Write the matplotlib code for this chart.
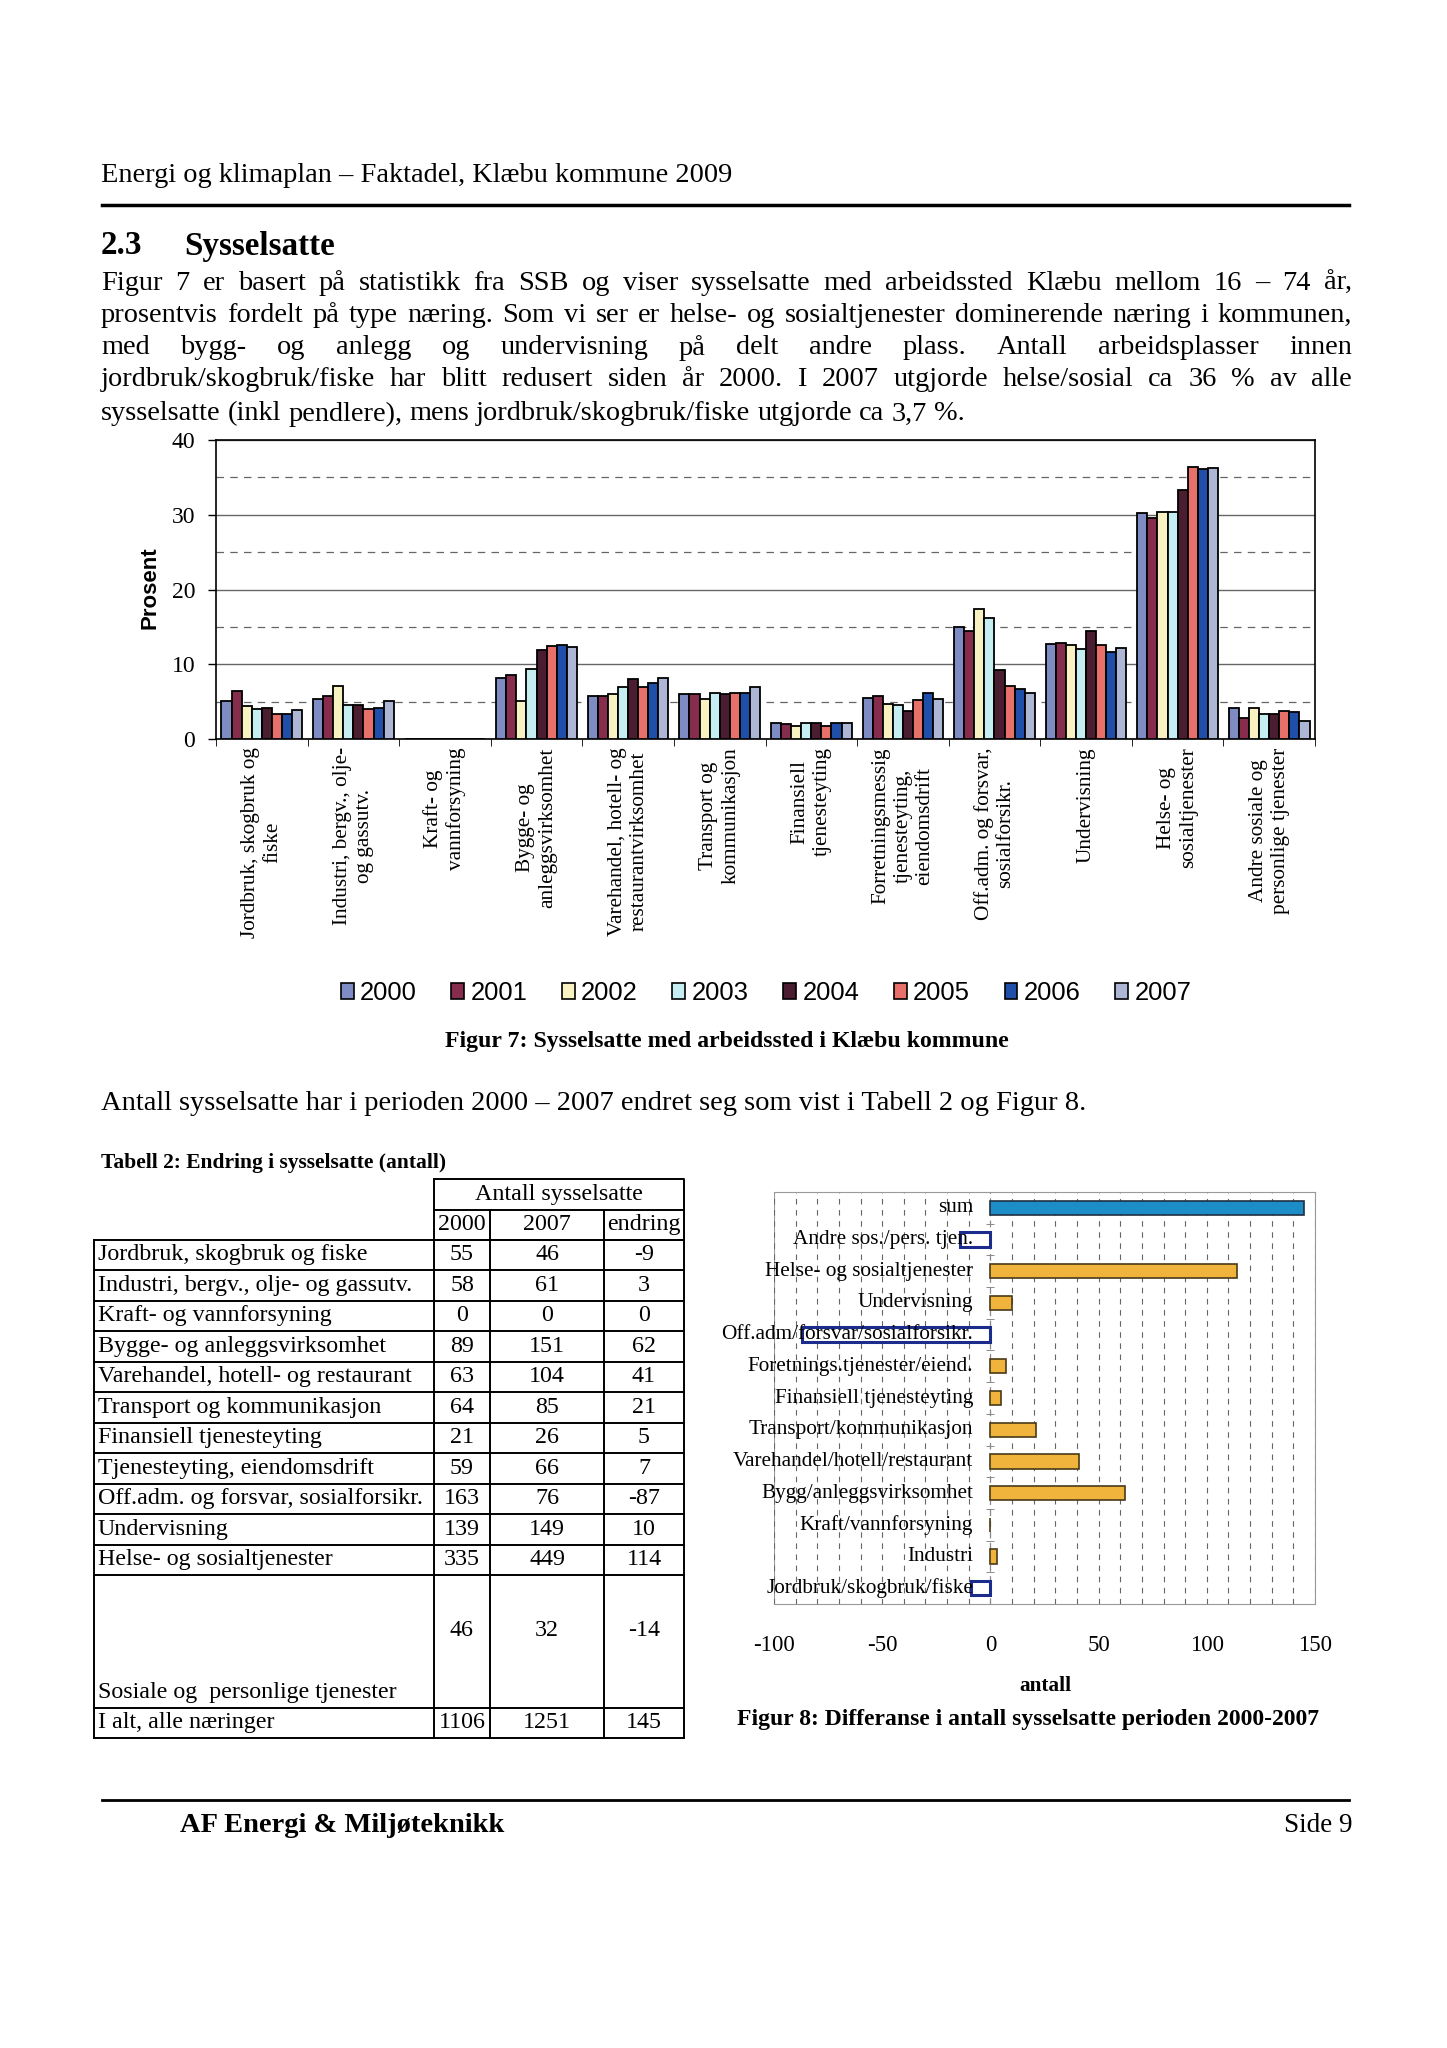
import numpy as np
import matplotlib
matplotlib.use('Agg')
import matplotlib.pyplot as plt
from matplotlib.patches import Patch

plt.rcParams['axes.unicode_minus'] = False

W, H = 1447, 2048
SERIF = 'Liberation Serif'
SANS = 'Liberation Sans'

# --- figur 7: prosent sysselsatte per naering og aar ---
years = ['2000', '2001', '2002', '2003', '2004', '2005', '2006', '2007']
sectors = ['Jordbruk, skogbruk og\nfiske', 'Industri, bergv., olje-\nog gassutv.',
           'Kraft- og\nvannforsyning', 'Bygge- og\nanleggsvirksomhet',
           'Varehandel, hotell- og\nrestaurantvirksomhet', 'Transport og\nkommunikasjon',
           'Finansiell\ntjenesteyting', 'Forretningsmessig\ntjenesteyting,\neiendomsdrift',
           'Off.adm. og forsvar,\nsosialforsikr.', 'Undervisning',
           'Helse- og\nsosialtjenester', 'Andre sosiale og\npersonlige tjenester']
share_2000 = [5.1, 5.3, 0, 8.1, 5.8, 6.0, 2.2, 5.5, 15.0, 12.7, 30.2, 4.2]
share_2001 = [6.4, 5.7, 0, 8.6, 5.8, 6.0, 2.0, 5.7, 14.5, 12.9, 29.5, 2.8]
share_2002 = [4.4, 7.1, 0, 5.1, 6.0, 5.3, 1.8, 4.7, 17.4, 12.6, 30.4, 4.1]
share_2003 = [4.0, 4.5, 0, 9.4, 7.0, 6.2, 2.2, 4.5, 16.2, 12.0, 30.4, 3.4]
share_2004 = [4.1, 4.5, 0, 11.9, 8.0, 6.0, 2.1, 3.8, 9.2, 14.5, 33.3, 3.3]
share_2005 = [3.4, 4.0, 0, 12.4, 7.0, 6.2, 1.8, 5.2, 7.1, 12.6, 36.4, 3.8]
share_2006 = [3.4, 4.1, 0, 12.6, 7.5, 6.2, 2.2, 6.2, 6.7, 11.7, 36.1, 3.6]
share_2007 = [3.9, 5.1, 0, 12.3, 8.2, 7.0, 2.2, 5.3, 6.1, 12.2, 36.2, 2.4]
shares = [share_2000, share_2001, share_2002, share_2003,
          share_2004, share_2005, share_2006, share_2007]
year_colors = ['#7f8cc4', '#862c4c', '#f8f2c2', '#c5eef2',
               '#4a1d31', '#e8706a', '#1f4fa8', '#aeb6d6']

# --- tabell 2 ---
tab_names = ['Jordbruk, skogbruk og fiske', 'Industri, bergv., olje- og gassutv.',
             'Kraft- og vannforsyning', 'Bygge- og anleggsvirksomhet',
             'Varehandel, hotell- og restaurant', 'Transport og kommunikasjon',
             'Finansiell tjenesteyting', 'Tjenesteyting, eiendomsdrift',
             'Off.adm. og forsvar, sosialforsikr.', 'Undervisning',
             'Helse- og sosialtjenester', 'Sosiale og  personlige tjenester']
n2000 = [55, 58, 0, 89, 63, 64, 21, 59, 163, 139, 335, 46]
n2007 = [46, 61, 0, 151, 104, 85, 26, 66, 76, 149, 449, 32]
endring = [-9, 3, 0, 62, 41, 21, 5, 7, -87, 10, 114, -14]
total_name = 'I alt, alle næringer'
total_2000, total_2007, total_endring = 1106, 1251, 145

# --- figur 8 ---
diff_labels = ['Jordbruk/skogbruk/fiske', 'Industri', 'Kraft/vannforsyning',
               'Bygg/anleggsvirksomhet', 'Varehandel/hotell/restaurant',
               'Transport/kommunikasjon', 'Finansiell tjenesteyting',
               'Foretnings.tjenester/eiend.', 'Off.adm/forsvar/sosialforsikr.',
               'Undervisning', 'Helse- og sosialtjenester', 'Andre sos./pers. tjen.', 'sum']
diff_values = endring + [total_endring]

body = ['Figur 7 er basert på statistikk fra SSB og viser sysselsatte med arbeidssted Klæbu mellom 16 – 74 år,',
        'prosentvis fordelt på type næring. Som vi ser er helse- og sosialtjenester dominerende næring i kommunen,',
        'med bygg- og anlegg og undervisning på delt andre plass. Antall arbeidsplasser innen',
        'jordbruk/skogbruk/fiske har blitt redusert siden år 2000. I 2007 utgjorde helse/sosial ca 36 % av alle',
        'sysselsatte (inkl pendlere), mens jordbruk/skogbruk/fiske utgjorde ca 3,7 %.']

fig = plt.figure(figsize=(W / 100, H / 100), dpi=100)
fig.patch.set_facecolor('white')
R = fig.canvas.get_renderer()

page = fig.add_axes([0, 0, 1, 1], zorder=0)
page.set_xlim(0, W)
page.set_ylim(H, 0)
page.axis('off')


def wpx(t):
    return t.get_window_extent(renderer=R).width


def fit_size(s, target, family=SERIF, weight='normal'):
    t = page.text(0, 0, s, fontsize=20, family=family, weight=weight)
    w = wpx(t)
    t.remove()
    return 20 * target / w


def put(x, y, s, target, family=SERIF, weight='normal', ha='left'):
    fs = fit_size(s, target, family, weight)
    page.text(x, y, s, fontsize=fs, family=family, weight=weight, ha=ha, va='center')
    return fs


def justify(line, y, x0, x1, fs, last=False):
    words = line.split(' ')
    ts = [page.text(0, y, w, fontsize=fs, family=SERIF, va='center') for w in words]
    widths = [wpx(t) for t in ts]
    gap = 0.25 * fs * 100 / 72 if last else (x1 - x0 - sum(widths)) / (len(words) - 1)
    x = x0
    for t, w in zip(ts, widths):
        t.set_x(x)
        x += w + gap


# header
put(101, 176, 'Energi og klimaplan – Faktadel, Klæbu kommune 2009', 634)
page.plot([102, 1349], [205, 205], color='black', lw=2.5)
fs_h = fit_size('Sysselsatte', 151, weight='bold')
page.text(101, 246, '2.3', fontsize=fs_h, family=SERIF, weight='bold', va='center')
page.text(184, 246, 'Sysselsatte', fontsize=fs_h, family=SERIF, weight='bold', va='center')

fs_body = fit_size(body[-1], 866)
body_y = [283, 315, 348, 380, 414]
for i, (line, y) in enumerate(zip(body, body_y)):
    justify(line, y, 101, 1352, fs_body, last=(i == len(body) - 1))

# --- figur 7 ---
ax = fig.add_axes([216 / W, 1 - 739 / H, (1315 - 216) / W, (739 - 440) / H], zorder=2)
x = np.arange(len(sectors))
bw = 0.11
for k, (vals, c) in enumerate(zip(shares, year_colors)):
    ax.bar(x - 0.44 + bw * (k + 0.5), vals, bw, color=c, edgecolor='black',
           linewidth=1.3, zorder=3)
ax.set_xlim(-0.5, len(sectors) - 0.5)
ax.set_ylim(0, 40)
ax.set_yticks([0, 10, 20, 30, 40])
ax.set_yticks([5, 15, 25, 35], minor=True)
ax.yaxis.grid(True, which='major', color='#666666', lw=1.0, zorder=0)
ax.yaxis.grid(True, which='minor', color='#666666', lw=0.9, ls=(0, (6, 5)), zorder=0)
ax.tick_params(axis='y', which='major', labelsize=17, length=6, width=1,
               direction='out', pad=9, labelfontfamily=SERIF)
ax.tick_params(axis='y', which='minor', length=0)
ax.set_xticks(x)
fs_x = fit_size('Jordbruk, skogbruk og', 192)
ax.set_xticklabels(sectors, rotation=90, fontsize=fs_x, family=SERIF,
                   ha='center', va='top', multialignment='center')
ax.set_xticks(np.arange(-0.5, len(sectors), 1), minor=True)
ax.tick_params(axis='x', which='major', length=0, pad=6)
ax.tick_params(axis='x', which='minor', length=5, direction='out')
for s in ax.spines.values():
    s.set_linewidth(1.2)
page.text(150, 588, 'Prosent', rotation=90, fontsize=16, family=SANS, weight='bold',
          ha='center', va='center')

fs_leg = fit_size('2000', 57, family=SANS)
handles = [Patch(facecolor=c, edgecolor='black', linewidth=1.2, label=y)
           for y, c in zip(years, year_colors)]
fig.legend(handles=handles, loc='center', bbox_to_anchor=(766 / W, 1 - 993 / H), ncol=8,
           frameon=False, handlelength=0.5, handleheight=0.55, handletextpad=0.25,
           columnspacing=1.35, prop={'family': SANS, 'size': fs_leg})

put(727, 1041, 'Figur 7: Sysselsatte med arbeidssted i Klæbu kommune', 563,
    weight='bold', ha='center')
put(101, 1104, 'Antall sysselsatte har i perioden 2000 – 2007 endret seg som vist i Tabell 2 og Figur 8.', 986)

# --- tabell 2 ---
put(101, 1163, 'Tabell 2: Endring i sysselsatte (antall)', 345, weight='bold')
xl, c1, c2, c3, xr = 94, 434, 490, 604, 684
y_top, y_h2, y_d = 1179, 1209.5, 1239.5
rh = 30.5
lw_t = 1.4
fs_t = fit_size('Off.adm. og forsvar, sosialforsikr.', 324)
page.plot([c1, xr, xr, c1, c1], [y_top, y_top, y_d, y_d, y_top], color='black', lw=lw_t)
page.plot([c1, xr], [y_h2, y_h2], color='black', lw=lw_t)
for cx in (c2, c3):
    page.plot([cx, cx], [y_h2, y_d], color='black', lw=lw_t)
page.text((c1 + xr) / 2, (y_top + y_h2) / 2, 'Antall sysselsatte', fontsize=fs_t,
          family=SERIF, ha='center', va='center')
for txt, a, b in (('2000', c1, c2), ('2007', c2, c3), ('endring', c3, xr)):
    page.text((a + b) / 2, (y_h2 + y_d) / 2, txt, fontsize=fs_t, family=SERIF,
              ha='center', va='center')

rows = list(zip(tab_names, n2000, n2007, endring)) + \
    [(total_name, total_2000, total_2007, total_endring)]
y = y_d
for i, (name, a, b, d) in enumerate(rows):
    h = rh * 4.35 if i == len(tab_names) - 1 else rh
    page.plot([xl, xr], [y, y], color='black', lw=lw_t)
    if h > rh:
        ny, vy = y + h - rh / 2, y + h * 0.42
    else:
        ny = vy = y + h / 2
    page.text(xl + 4, ny, name, fontsize=fs_t, family=SERIF, va='center')
    for v, a_, b_ in ((a, c1, c2), (b, c2, c3), (d, c3, xr)):
        page.text((a_ + b_) / 2, vy, str(v), fontsize=fs_t, family=SERIF,
                  ha='center', va='center')
    y += h
page.plot([xl, xr], [y, y], color='black', lw=lw_t)
for cx in (xl, c1, c2, c3, xr):
    page.plot([cx, cx], [y_d, y], color='black', lw=lw_t)

# --- figur 8 ---
ax2 = fig.add_axes([774 / W, 1 - 1604 / H, (1315 - 774) / W, (1604 - 1192) / H], zorder=2)
yy = np.arange(len(diff_values))
faces, edges, lws = [], [], []
for lab, v in zip(diff_labels, diff_values):
    if lab == 'sum':
        faces.append('#1c8dc6'); edges.append('#203040'); lws.append(1.2)
    elif v < 0:
        faces.append('white'); edges.append('#1c2c8c'); lws.append(2.2)
    else:
        faces.append('#f0b43c'); edges.append('#4a3a18'); lws.append(1.2)
ax2.barh(yy, diff_values, height=0.45, color=faces, edgecolor=edges, linewidth=lws, zorder=3)
ax2.set_xlim(-100, 150)
ax2.set_ylim(-0.5, len(diff_values) - 0.5)
ax2.set_xticks([-100, -50, 0, 50, 100, 150])
ax2.set_xticks(np.arange(-100, 151, 10), minor=True)
ax2.xaxis.grid(True, which='both', color='#666666', lw=0.8, ls=(0, (5, 5)), zorder=0)
ax2.tick_params(axis='x', which='both', length=0, pad=22, labelsize=16.5,
                labelfontfamily=SERIF)
ax2.set_yticks([])
ax2.set_yticks(np.arange(-0.5, len(diff_values), 1), minor=True)
ax2.tick_params(axis='y', which='minor', length=6, direction='inout', color='#777777')
ax2.spines['left'].set_position(('data', 0))
ax2.spines['left'].set_color('#888888')
ax2.spines['left'].set_linestyle((0, (5, 5)))
for s in ('top', 'right', 'bottom'):
    ax2.spines[s].set_color('#999999')
ax2.axvline(-100, color='#999999', lw=1.5, zorder=1)
fs_d = fit_size('Helse- og sosialtjenester', 208)
for yi, lab in zip(yy, diff_labels):
    ax2.text(-8, yi, lab, ha='right', va='center', fontsize=fs_d, family=SERIF, zorder=5)
put(1045, 1686, 'antall', 52, weight='bold', ha='center')
put(1028, 1719, 'Figur 8: Differanse i antall sysselsatte perioden 2000-2007', 581,
    weight='bold', ha='center')

# footer
page.plot([102, 1349], [1800, 1800], color='black', lw=2)
put(180, 1826, 'AF Energi & Miljøteknikk', 324, weight='bold')
put(1352, 1826, 'Side 9', 69, ha='right')

fig.savefig('out.png', dpi=100)
